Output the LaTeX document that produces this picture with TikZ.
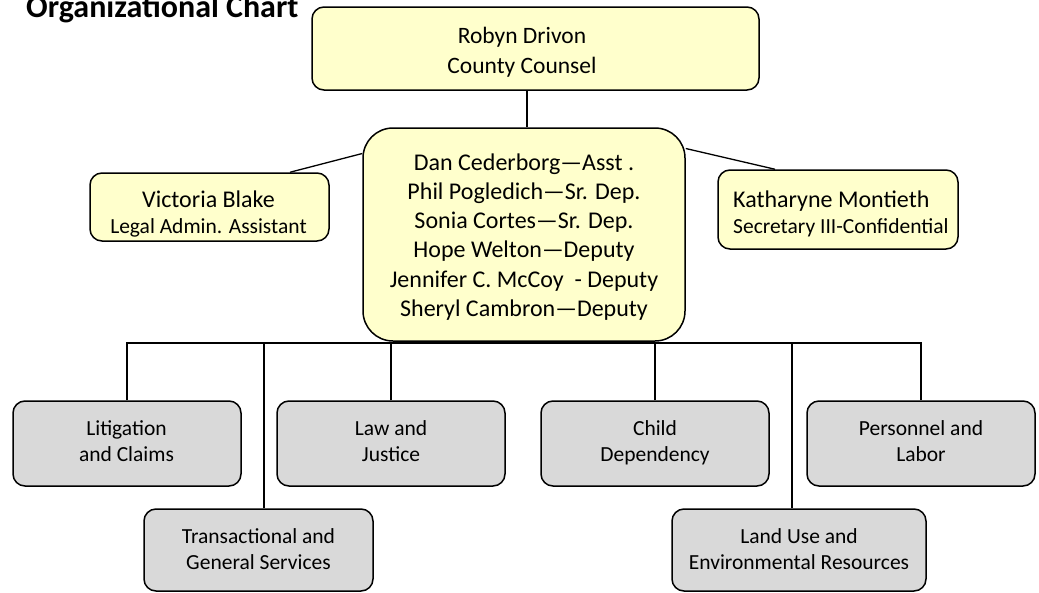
\documentclass[tikz,border=0pt]{standalone}
\usepackage{fontspec}
\setmainfont{Carlito}
\begin{document}
\begin{tikzpicture}[x=1pt,y=-1pt,
  box/.style={draw=black, line width=1.5pt, rounded corners=12pt, inner sep=0pt},
  staff/.style={box, fill=ylw},
  unit/.style={box, fill=gry, minimum width=228pt, minimum height=85pt},
  lowunit/.style={box, fill=gry, minimum height=82pt},
  ln/.style={anchor=base, inner sep=0pt},
  big/.style={ln, font=\fontsize{24}{29}\selectfont},
  small/.style={ln, font=\fontsize{21.5}{26}\selectfont},
  link/.style={draw=black, line width=1.3pt}]
\definecolor{ylw}{HTML}{FFFFCC}
\definecolor{gry}{HTML}{D9D9D9}
\useasboundingbox (0,0) rectangle (1039,592);

% heading
\node[anchor=base west, inner sep=0pt, font=\fontsize{32}{36}\selectfont\bfseries] (title) at (26,17) {Organizational Chart};

% county counsel
\node[staff, minimum width=447pt, minimum height=83pt] (top) at (535.5,48.5) {};
\node[big, font=\fontsize{23.5}{30}\selectfont] (top1) at (522,43) {Robyn Drivon};
\node[big, font=\fontsize{23.5}{30}\selectfont] (top2) at (522,73) {County Counsel};

% assistant and deputies
\node[staff, rounded corners=30pt, minimum width=322pt, minimum height=213pt] (mid) at (524,234.5) {};
\node[big] (mid1) at (524,170.7) {Dan Cederborg—Asst .};
\node[big] (mid2) at (524,199.8) {Phil Pogledich—Sr. Dep.};
\node[big] (mid3) at (524,228.8) {Sonia Cortes—Sr. Dep.};
\node[big] (mid4) at (524,257.9) {Hope Welton—Deputy};
\node[big] (mid5) at (524,287) {Jennifer C. McCoy\ \ - Deputy};
\node[big] (mid6) at (524,316) {Sheryl Cambron—Deputy};

% support staff
\node[staff, minimum width=239pt, minimum height=68pt] (vic) at (209.5,207) {};
\node[big] (vic1) at (208.5,207) {Victoria Blake};
\node[small] (vic2) at (208.5,233) {Legal Admin. Assistant};
\node[staff, minimum width=240pt, minimum height=79pt] (kat) at (838,209.5) {};
\node[big, anchor=base west] (kat1) at (733,207) {Katharyne Montieth};
\node[small, anchor=base west] (kat2) at (733,233) {Secretary III-Confidential};

% divisions
\node[unit] (lit) at (127,443.5) {};
\node[small] (lit1) at (126.5,435) {Litigation};
\node[small] (lit2) at (126.5,461) {and Claims};
\node[unit] (law) at (391,443.5) {};
\node[small] (law1) at (391,435) {Law and};
\node[small] (law2) at (391,461) {Justice};
\node[unit] (child) at (655,443.5) {};
\node[small] (child1) at (655,435) {Child};
\node[small] (child2) at (655,461) {Dependency};
\node[unit] (pers) at (921,443.5) {};
\node[small] (pers1) at (921,435) {Personnel and};
\node[small] (pers2) at (921,461) {Labor};
\node[lowunit, minimum width=229pt] (trans) at (258.5,550) {};
\node[small] (trans1) at (258.5,543) {Transactional and};
\node[small] (trans2) at (258.5,569) {General Services};
\node[lowunit, minimum width=254pt] (land) at (799,550) {};
\node[small] (land1) at (799,543) {Land Use and};
\node[small] (land2) at (799,569) {Environmental Resources};

% connectors
\coordinate (bus) at (0,343);
\draw[link] ([xshift=3pt]mid.north) -- ([xshift=3pt]mid.north |- top.south);
\draw[link] ([yshift=81pt]mid.west) -- ([xshift=80.5pt]vic.north);
\draw[link] ([yshift=86pt]mid.east) -- ([xshift=-63pt]kat.north);
\draw[link] (lit.north) -- (lit.north |- bus) -- (pers.north |- bus) -- (pers.north);
\draw[link] (law.north) -- (law.north |- bus);
\draw[link] (child.north) -- (child.north |- bus);
\draw[link] ([xshift=5.5pt]trans.north) -- ([xshift=5.5pt]trans.north |- bus);
\draw[link] ([xshift=-7pt]land.north) -- ([xshift=-7pt]land.north |- bus);
\end{tikzpicture}
\end{document}
